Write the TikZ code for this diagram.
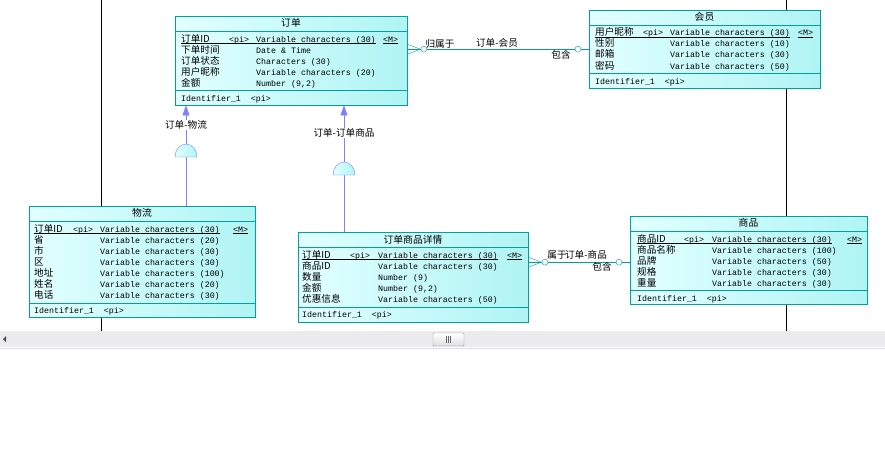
\documentclass[tikz,border=0pt]{standalone}
\usepackage{fontspec}
\setmainfont{Liberation Mono}
\newfontfamily\cjk{Noto Sans CJK SC}
\usetikzlibrary{arrows.meta,positioning,calc}
\definecolor{entline}{RGB}{0,160,160}
\definecolor{entleft}{HTML}{E2FFFF}
\definecolor{entright}{HTML}{B0F4F4}
\definecolor{inhline}{HTML}{8080FF}
\definecolor{barbg}{HTML}{ECECEC}

\tikzset{
  entbox/.style={draw=entline, left color=entleft, right color=entright,
    anchor=north west, inner sep=0pt},
  attr/.style={anchor=base west, inner sep=0pt, font=\fontsize{8.3}{10}\selectfont},
  cname/.style={anchor=base west, inner sep=0pt, font=\cjk\fontsize{9.6}{10}\selectfont},
  etitle/.style={inner sep=0pt, font=\cjk\fontsize{9.8}{10}\selectfont},
  lbl/.style={inner sep=1pt, font=\cjk\fontsize{9.6}{10}\selectfont},
  rel/.style={draw=entline},
  inh/.style={draw=inhline},
}

\begin{document}
\begin{tikzpicture}[x=1pt,y=-1pt]
  \useasboundingbox (0,0) rectangle (885,460);
  \fill[white] (0,0) rectangle (885,460);

  % page borders
  \draw[black] (101,0) -- (101,331);
  \draw[black] (786,0) -- (786,331);

  % scroll bar
  \fill[barbg] (0,331) rectangle (885,347);
  \draw[blue!15] (0,348.5) -- (885,348.5);
  \fill[black!70] (3,339) -- (6,336) -- (6,342) -- cycle;
  \draw[gray!80, top color=white, bottom color=gray!25, rounded corners=1pt]
    (433,333) rectangle (464,346);
  \foreach \xx in {446,448,450}
    \draw[black!60] (\xx,336) -- (\xx,343);

  % ---- 订单
  \node[entbox, minimum width=232pt, minimum height=89pt] (dd) at (175,16) {};
  \draw[entline] (175,31) -- (407,31);
  \draw[entline] (175,90) -- (407,90);
  \node[etitle] (dd-t) at (291,23) {订单};
  \node[cname] (dd-n0) at (181,42) {订单ID};
  \node[attr] (dd-k0) at (229,42) {<pi>};
  \node[attr] (dd-v0) at (256,42) {Variable characters (30)};
  \node[attr] (dd-m0) at (383,42) {<M>};
  \draw (181,43.5) -- (376,43.5);
  \draw (383,43.5) -- (398,43.5);
  \foreach \n/\t [count=\i] in {下单时间/Date \& Time, 订单状态/Characters (30),
      用户昵称/Variable characters (20), 金额/{Number (9,2)}} {
    \node[cname] (dd-n\i) at (181,42+11*\i) {\n};
    \node[attr] (dd-v\i) at (256,42+11*\i) {\t};
  }
  \node[attr] (dd-id) at (181,101) {Identifier\_1~~<pi>};

  % ---- 会员
  \node[entbox, minimum width=231pt, minimum height=78pt] (hy) at (589,10) {};
  \draw[entline] (589,25) -- (820,25);
  \draw[entline] (589,73) -- (820,73);
  \node[etitle] (hy-t) at (704.5,17) {会员};
  \node[cname] (hy-n0) at (595,36) {用户昵称};
  \node[attr] (hy-k0) at (643,36) {<pi>};
  \node[attr] (hy-v0) at (670,36) {Variable characters (30)};
  \node[attr] (hy-m0) at (798,36) {<M>};
  \draw (595,37.5) -- (790,37.5);
  \draw (798,37.5) -- (813,37.5);
  \foreach \n/\t [count=\i] in {性别/Variable characters (10),
      邮箱/Variable characters (30), 密码/Variable characters (50)} {
    \node[cname] (hy-n\i) at (595,36+11*\i) {\n};
    \node[attr] (hy-v\i) at (670,36+11*\i) {\t};
  }
  \node[attr] (hy-id) at (595,84) {Identifier\_1~~<pi>};

  % ---- 物流
  \node[entbox, minimum width=226pt, minimum height=111pt] (wl) at (29,206) {};
  \draw[entline] (29,221) -- (255,221);
  \draw[entline] (29,303) -- (255,303);
  \node[etitle] (wl-t) at (142,213) {物流};
  \node[cname] (wl-n0) at (34,232) {订单ID};
  \node[attr] (wl-k0) at (73,232) {<pi>};
  \node[attr] (wl-v0) at (100,232) {Variable characters (30)};
  \node[attr] (wl-m0) at (233,232) {<M>};
  \draw (34,233.5) -- (220,233.5);
  \draw (233,233.5) -- (248,233.5);
  \foreach \n/\t [count=\i] in {省/Variable characters (20), 市/Variable characters (30),
      区/Variable characters (30), 地址/Variable characters (100),
      姓名/Variable characters (20), 电话/Variable characters (30)} {
    \node[cname] (wl-n\i) at (34,232+11*\i) {\n};
    \node[attr] (wl-v\i) at (100,232+11*\i) {\t};
  }
  \node[attr] (wl-id) at (34,313) {Identifier\_1~~<pi>};

  % ---- 订单商品详情
  \node[entbox, minimum width=230pt, minimum height=90pt] (xq) at (298,232) {};
  \draw[entline] (298,247) -- (528,247);
  \draw[entline] (298,307) -- (528,307);
  \node[etitle] (xq-t) at (413,240) {订单商品详情};
  \node[cname] (xq-n0) at (302,258) {订单ID};
  \node[attr] (xq-k0) at (350,258) {<pi>};
  \node[attr] (xq-v0) at (378,258) {Variable characters (30)};
  \node[attr] (xq-m0) at (507,258) {<M>};
  \draw (302,259.5) -- (498,259.5);
  \draw (507,259.5) -- (522,259.5);
  \foreach \n/\t [count=\i] in {商品ID/Variable characters (30), 数量/Number (9),
      金额/{Number (9,2)}, 优惠信息/Variable characters (50)} {
    \node[cname] (xq-n\i) at (302,258+11*\i) {\n};
    \node[attr] (xq-v\i) at (378,258+11*\i) {\t};
  }
  \node[attr] (xq-id) at (302,317) {Identifier\_1~~<pi>};

  % ---- 商品
  \node[entbox, minimum width=237pt, minimum height=88pt] (sp) at (630,216) {};
  \draw[entline] (630,231) -- (867,231);
  \draw[entline] (630,290) -- (867,290);
  \node[etitle] (sp-t) at (748.5,223) {商品};
  \node[cname] (sp-n0) at (637,242) {商品ID};
  \node[attr] (sp-k0) at (684,242) {<pi>};
  \node[attr] (sp-v0) at (712,242) {Variable characters (30)};
  \node[attr] (sp-m0) at (847,242) {<M>};
  \draw (637,243.5) -- (832,243.5);
  \draw (847,243.5) -- (862,243.5);
  \foreach \n/\t [count=\i] in {商品名称/Variable characters (100),
      品牌/Variable characters (50), 规格/Variable characters (30),
      重量/Variable characters (30)} {
    \node[cname] (sp-n\i) at (637,242+11*\i) {\n};
    \node[attr] (sp-v\i) at (712,242+11*\i) {\t};
  }
  \node[attr] (sp-id) at (637,301) {Identifier\_1~~<pi>};

  % ---- 订单-会员
  \coordinate (r1) at (dd.east |- hy.west);
  \draw[rel] (r1) -- (hy.west);
  \draw[rel] (r1) ++(0,-5) -- ++(13,5) -- ++(-13,5);
  \draw[rel, fill=white] ($(r1)+(16.5,0)$) circle[radius=3pt];
  \draw[rel, fill=white] ($(hy.west)+(-11,0)$) circle[radius=3pt];
  \node[lbl] (r1-a) at (440,44) {归属于};
  \node[lbl] (r1-n) at (497,43) {订单-会员};
  \node[lbl] (r1-b) at (561,55) {包含};

  % ---- 订单商品详情-商品
  \coordinate (r2) at ([yshift=-2pt]xq.east |- sp.west);
  \coordinate (r2e) at ([yshift=-2pt]sp.west);
  \draw[rel] (r2) -- (r2e);
  \draw[rel] (r2) ++(0,-5) -- ++(13,5) -- ++(-13,5);
  \draw[rel, fill=white] ($(r2)+(16.5,0)$) circle[radius=3pt];
  \draw[rel, fill=white] ($(r2e)+(-11,0)$) circle[radius=3pt];
  \node[lbl] (r2-a) at (557,255) {属于};
  \node[lbl] (r2-n) at (586,255) {订单-商品};
  \node[lbl] (r2-b) at (602,267) {包含};

  % ---- inheritance links
  \coordinate (h1) at (186,157);
  \draw[inh, -{Triangle[width=7pt,length=10pt]}] (h1) -- (h1 |- dd.south);
  \draw[inh] (h1) -- (h1 |- wl.north);
  \draw[inh, left color=entleft, right color=entright]
    (h1) ++(-11,0) arc[start angle=180, end angle=0, x radius=11pt, y radius=13pt] -- cycle;
  \node[lbl, fill=white] (h1-l) at (186,125) {订单-物流};

  \coordinate (h2) at (344,175);
  \draw[inh, -{Triangle[width=7pt,length=10pt]}] (h2) -- (h2 |- dd.south);
  \draw[inh] (h2) -- (h2 |- xq.north);
  \draw[inh, left color=entleft, right color=entright]
    (h2) ++(-11,0) arc[start angle=180, end angle=0, x radius=11pt, y radius=13pt] -- cycle;
  \node[lbl, fill=white] (h2-l) at (344,133) {订单-订单商品};
\end{tikzpicture}
\end{document}
